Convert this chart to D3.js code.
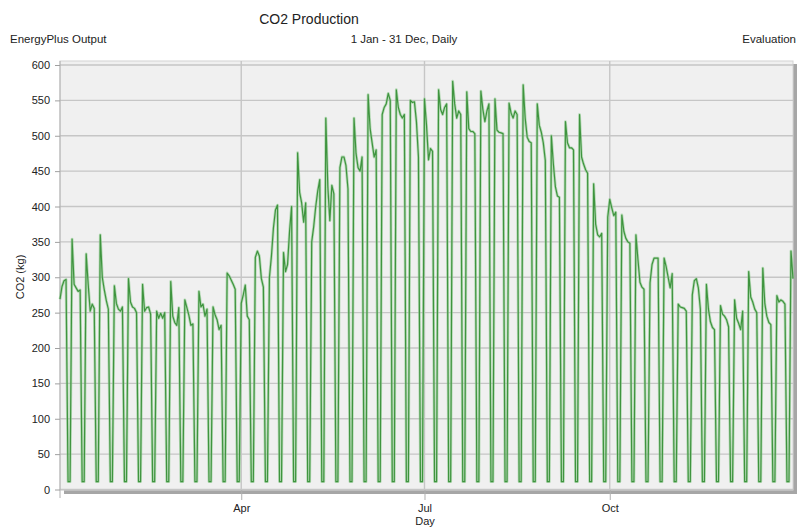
<!DOCTYPE html>
<html>
<head>
<meta charset="utf-8">
<script src="https://cdn.jsdelivr.net/npm/d3@7"></script>
<style>
  html, body { margin: 0; padding: 0; background: #ffffff; }
  svg { display: block; font-family: "Liberation Sans", Arial, sans-serif; }
</style>
</head>
<body>
<svg id="chart" width="800" height="528"></svg>
<script>
// ---- Data: daily CO2 production (kg), one array per month ----
const jan = [269,287,295,297,11,11,354,290,285,280,282,11,11,333,290,252,262,256,11,11,360,300,282,267,255,11,11,288,263,255,252];
const feb = [258,11,11,298,265,258,256,250,11,11,290,252,257,258,248,11,11,252,242,249,242,250,11,11,294,245,236,232];
const mar = [257,11,11,268,257,246,232,234,11,11,280,258,262,245,255,11,11,258,247,240,226,232,11,11,306,302,296,290,283,11,11];
const apr = [263,275,289,245,240,11,11,328,337,330,298,286,11,11,300,330,370,395,402,11,11,335,308,318,365,400,11,11,476,420];
const may = [405,378,405,11,11,350,372,400,422,438,11,11,525,428,380,430,418,11,11,455,470,470,458,425,11,11,525,475,455,450,470];
const jun = [11,11,558,510,490,470,480,11,11,530,540,545,560,550,11,11,565,540,530,525,530,11,11,550,547,548,520,470,11,11];
const jul = [552,515,466,482,478,11,11,565,537,530,540,545,11,11,577,545,525,535,530,11,11,562,510,506,506,503,11,11,563,537,520];
const aug = [535,545,11,11,552,508,505,504,503,11,11,546,532,525,535,530,11,11,572,525,498,492,490,11,11,545,515,505,490,465,11];
const sep = [11,500,460,428,415,413,11,11,520,490,483,483,480,11,11,530,470,460,452,447,11,11,432,375,360,357,362,11,11,385];
const oct = [410,398,387,392,11,11,388,365,355,350,348,11,11,360,325,293,286,283,11,11,292,318,327,327,327,11,11,327,315,300,285];
const nov = [305,11,11,262,258,257,256,252,11,11,275,295,298,285,255,11,11,290,255,237,229,226,11,11,260,248,245,240,230,11];
const dec = [11,268,242,235,226,252,11,11,308,272,265,255,250,11,11,313,263,245,236,233,11,11,274,265,268,266,262,11,11,337,298];

const months = [jan, feb, mar, apr, may, jun, jul, aug, sep, oct, nov, dec];
const yTicks = [0,50,100,150,200,250,300,350,400,450,500,550,600];
const xTickDates = ["2019-04-01", "2019-07-01", "2019-10-01"];
const xTickLabels = ["Apr", "Jul", "Oct"];

const title = "CO2 Production";
const leftHeader = "EnergyPlus Output";
const centerHeader = "1 Jan - 31 Dec, Daily";
const rightHeader = "Evaluation";
const yLabel = "CO2 (kg)";
const xLabel = "Day";

// ---- Build daily records ----
const data = [];
months.forEach((arr, m) => {
  arr.forEach((v, i) => data.push({ date: new Date(2019, m, i + 1), value: v }));
});

// ---- Layout ----
const svg = d3.select("#chart");
const plot = { left: 60, right: 793, top: 61, bottom: 490 };

const x = d3.scaleTime()
  .domain([new Date(2019, 0, 1), new Date(2019, 11, 31)])
  .range([plot.left, plot.right]);
const y = d3.scaleLinear()
  .domain([0, 600])
  .range([489.5, 65]);

// shadow
svg.append("rect").attr("x", plot.left + 4).attr("y", plot.bottom).attr("width", plot.right - plot.left).attr("height", 4).attr("fill", "#a6a6a6");
svg.append("rect").attr("x", plot.right).attr("y", plot.top + 3).attr("width", 4).attr("height", plot.bottom - plot.top + 1).attr("fill", "#a6a6a6");

// plot background
svg.append("rect")
  .attr("x", plot.left).attr("y", plot.top)
  .attr("width", plot.right - plot.left).attr("height", plot.bottom - plot.top)
  .attr("fill", "#f0f0f0").attr("stroke", "#d4d4d4").attr("stroke-width", 1);

// horizontal grid
svg.append("g").selectAll("line").data(yTicks).join("line")
  .attr("x1", plot.left).attr("x2", plot.right)
  .attr("y1", d => y(d)).attr("y2", d => y(d))
  .attr("stroke", "#c6c6c6").attr("stroke-width", 1.4);

// vertical grid
const xTicks = xTickDates.map(s => { const p = s.split("-"); return new Date(+p[0], +p[1] - 1, +p[2]); });
svg.append("g").selectAll("line").data(xTicks).join("line")
  .attr("x1", d => x(d)).attr("x2", d => x(d))
  .attr("y1", plot.top).attr("y2", plot.bottom)
  .attr("stroke", "#c6c6c6").attr("stroke-width", 1.4);

// Y axis
const yAxis = d3.axisLeft(y).tickValues(yTicks).tickSize(5).tickPadding(5);
const gy = svg.append("g").attr("transform", `translate(${plot.left},0)`).call(yAxis);
gy.select(".domain").attr("stroke", "#b0b0b0").attr("d", `M0,${plot.top}V${plot.bottom + 8}`);
gy.selectAll(".tick line").attr("stroke", "#a0a0a0");
gy.selectAll(".tick text").attr("fill", "#222").style("font-size", "11px").style("font-family", "'Liberation Sans', Arial, sans-serif");

// X axis
const xAxis = d3.axisBottom(x).tickValues(xTicks).tickFormat((d, i) => xTickLabels[i]).tickSize(10).tickPadding(4);
const gx = svg.append("g").attr("transform", `translate(0,${plot.bottom})`).call(xAxis);
gx.select(".domain").remove();
gx.selectAll(".tick line").attr("stroke", "#b0b0b0");
gx.selectAll(".tick text").attr("fill", "#222").style("font-size", "11px").style("font-family", "'Liberation Sans', Arial, sans-serif");

// Line
const line = d3.line().x(d => x(d.date)).y(d => y(d.value));
svg.append("path").datum(data)
  .attr("d", line).attr("fill", "none")
  .attr("stroke", "#8fcb8f").attr("stroke-width", 2.8).attr("stroke-linejoin", "round").attr("opacity", 0.6);
svg.append("path").datum(data)
  .attr("d", line).attr("fill", "none")
  .attr("stroke", "#3f943f").attr("stroke-width", 1.2).attr("stroke-linejoin", "round");

// Titles
svg.append("text").attr("x", 309).attr("y", 24).attr("text-anchor", "middle")
  .style("font-size", "14px").attr("fill", "#222").text(title);
svg.append("text").attr("x", 10).attr("y", 43)
  .style("font-size", "11.5px").attr("fill", "#222").text(leftHeader);
svg.append("text").attr("x", 404).attr("y", 43).attr("text-anchor", "middle")
  .style("font-size", "11.5px").attr("fill", "#222").text(centerHeader);
svg.append("text").attr("x", 796).attr("y", 43).attr("text-anchor", "end")
  .style("font-size", "11.5px").attr("fill", "#222").text(rightHeader);

// Axis labels
svg.append("text").attr("transform", "translate(24,277) rotate(-90)").attr("text-anchor", "middle")
  .style("font-size", "11px").attr("fill", "#222").text(yLabel);
svg.append("text").attr("x", 425).attr("y", 525).attr("text-anchor", "middle")
  .style("font-size", "11px").attr("fill", "#222").text(xLabel);
</script>
</body>
</html>
